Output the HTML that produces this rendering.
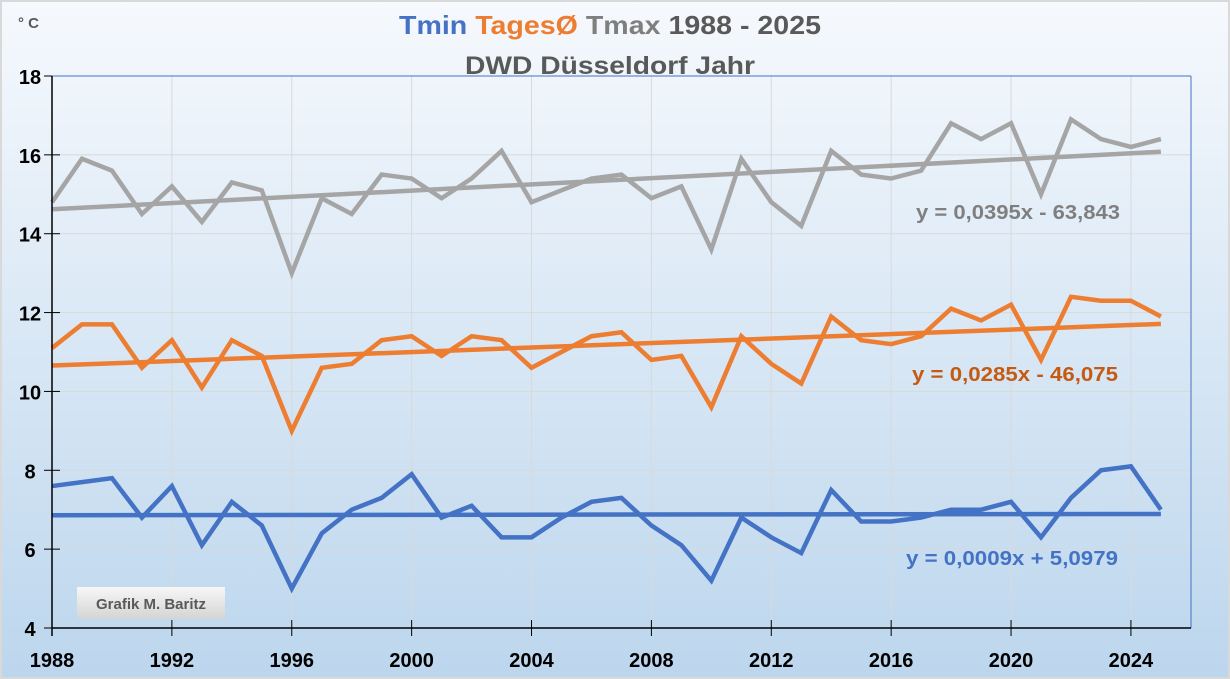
<!DOCTYPE html>
<html><head><meta charset="utf-8"><style>
html,body{margin:0;padding:0;width:1230px;height:679px;overflow:hidden;background:#fff}
svg{display:block;font-family:"Liberation Sans",sans-serif}
</style></head><body>
<svg id="chart" width="1230" height="679" viewBox="0 0 1230 679">
<defs><linearGradient id="bg" x1="0" y1="0" x2="0" y2="1">
<stop offset="0" stop-color="#f6f9fd"/><stop offset="1" stop-color="#bcd6ed"/></linearGradient>
<linearGradient id="lb" x1="0" y1="0" x2="0" y2="1"><stop offset="0" stop-color="#f7f7f7"/><stop offset="1" stop-color="#d4d4d4"/></linearGradient></defs>
<rect x="1" y="1" width="1228" height="677" fill="url(#bg)" stroke="#d9d9d9" stroke-width="2"/>
<g id="grid"></g>
<text x="18" y="28" font-size="15" font-weight="bold" fill="#595959">° C</text>
<text x="610" y="34" text-anchor="middle" font-size="26" font-weight="bold" textLength="422" lengthAdjust="spacingAndGlyphs"><tspan fill="#4472c4">Tmin </tspan><tspan fill="#ed7d31">TagesØ </tspan><tspan fill="#7f7f7f">Tmax </tspan><tspan fill="#595959">1988 - 2025</tspan></text>
<text x="610" y="74" text-anchor="middle" font-size="25" font-weight="bold" fill="#595959" textLength="290" lengthAdjust="spacingAndGlyphs">DWD Düsseldorf Jahr</text>
<g id="marks"></g>
<g id="axes"></g>
<text x="1018" y="219" text-anchor="middle" font-size="20" font-weight="bold" fill="#7f7f7f" textLength="204" lengthAdjust="spacingAndGlyphs">y = 0,0395x - 63,843</text>
<text x="1015" y="381" text-anchor="middle" font-size="20" font-weight="bold" fill="#c55a11" textLength="206" lengthAdjust="spacingAndGlyphs">y = 0,0285x - 46,075</text>
<text x="1012" y="565" text-anchor="middle" font-size="20" font-weight="bold" fill="#4472c4" textLength="212" lengthAdjust="spacingAndGlyphs">y = 0,0009x + 5,0979</text>
<g><rect x="77" y="587" width="148" height="32" fill="url(#lb)"/>
<text x="151" y="609" text-anchor="middle" font-size="15" font-weight="bold" fill="#595959">Grafik M. Baritz</text></g>
</svg>
<script>
const years=[];for(let y=1988;y<=2025;y++)years.push(y);
const tmax=[14.8,15.9,15.6,14.5,15.2,14.3,15.3,15.1,13.0,14.9,14.5,15.5,15.4,14.9,15.4,16.1,14.8,15.1,15.4,15.5,14.9,15.2,13.6,15.9,14.8,14.2,16.1,15.5,15.4,15.6,16.8,16.4,16.8,15.0,16.9,16.4,16.2,16.4];
const tmean=[11.1,11.7,11.7,10.6,11.3,10.1,11.3,10.9,9.0,10.6,10.7,11.3,11.4,10.9,11.4,11.3,10.6,11.0,11.4,11.5,10.8,10.9,9.6,11.4,10.7,10.2,11.9,11.3,11.2,11.4,12.1,11.8,12.2,10.8,12.4,12.3,12.3,11.9];
const tmin=[7.6,7.7,7.8,6.8,7.6,6.1,7.2,6.6,5.0,6.4,7.0,7.3,7.9,6.8,7.1,6.3,6.3,6.8,7.2,7.3,6.6,6.1,5.2,6.8,6.3,5.9,7.5,6.7,6.7,6.8,7.0,7.0,7.2,6.3,7.3,8.0,8.1,7.0];
const yTicks=[4,6,8,10,12,14,16,18];
const xTicks=[1988,1992,1996,2000,2004,2008,2012,2016,2020,2024];
const X0=52,XR=1191,Y0=628,Y1=76,PX=29.97;
const xs=y=>X0+(y-1988)*PX;
const ys=v=>Y0-(v-4)*(Y0-Y1)/14;
const NS="http://www.w3.org/2000/svg";
function mk(tag,attrs,parent){const e=document.createElementNS(NS,tag);for(const k in attrs)e.setAttribute(k,attrs[k]);parent.appendChild(e);return e;}
const grid=document.getElementById('grid'),axes=document.getElementById('axes'),marks=document.getElementById('marks');
yTicks.forEach(t=>{
  if(t>4&&t<18){const l=mk('line',{x1:X0,x2:XR,y1:ys(t),y2:ys(t),stroke:'#d9d9d9','stroke-width':1},grid);
  
  }
  mk('line',{x1:44,x2:X0+8,y1:ys(t),y2:ys(t),stroke:'#000','stroke-width':1},axes);
  const tx=mk('text',{x:30,y:ys(t)+8,'text-anchor':'middle','font-size':20,'font-weight':'bold',fill:'#000'},axes);
  tx.textContent=t;
  
  
});
xTicks.forEach(t=>{
  if(t>1988){const l=mk('line',{x1:xs(t),x2:xs(t),y1:Y1,y2:Y0,stroke:'#d9d9d9','stroke-width':1},grid);
  
  }
  mk('line',{x1:xs(t),x2:xs(t),y1:Y0-8,y2:Y0+8,stroke:'#000','stroke-width':1},axes);
  const tx=mk('text',{x:xs(t),y:667,'text-anchor':'middle','font-size':20,'font-weight':'bold',fill:'#000'},axes);
  tx.textContent=t;
  
  
});
mk('line',{x1:X0,x2:XR,y1:Y1,y2:Y1,stroke:'#4472c4','stroke-width':1},axes);
mk('line',{x1:XR,x2:XR,y1:Y1,y2:Y0,stroke:'#4472c4','stroke-width':1},axes);
mk('line',{x1:X0,x2:X0,y1:Y1,y2:Y0+8,stroke:'#000','stroke-width':1.5},axes);
mk('line',{x1:X0,x2:XR,y1:Y0,y2:Y0,stroke:'#000','stroke-width':1.5},axes);
function fit(v){const n=v.length;let sx=0,sy=0,sxx=0,sxy=0;years.forEach((x,i)=>{sx+=x;sy+=v[i];sxx+=x*x;sxy+=x*v[i];});const m=(n*sxy-sx*sy)/(n*sxx-sx*sx);return [m,(sy-m*sx)/n];}
function series(v,color,name){
  const [m,b]=fit(v);
  const tl=mk('line',{x1:xs(1988),y1:ys(m*1988+b),x2:xs(2025),y2:ys(m*2025+b),stroke:color,'stroke-width':4.5},marks);
  
  
  const p=mk('polyline',{points:v.map((d,i)=>xs(years[i])+','+ys(d)).join(' '),fill:'none',stroke:color,'stroke-width':4.5,'stroke-linejoin':'miter'},marks);
  
  
}
series(tmax,'#a5a5a5','tmax');
series(tmean,'#ed7d31','tmean');
series(tmin,'#4472c4','tmin');
</script>
</body></html>
